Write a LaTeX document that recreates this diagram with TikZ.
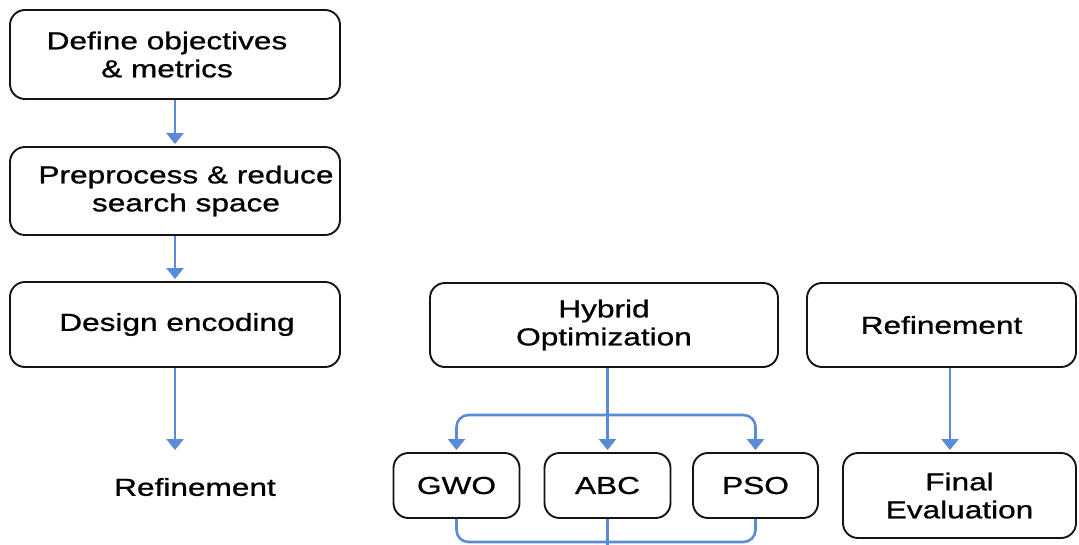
\documentclass[tikz,border=0pt]{standalone}
\usepackage{fontspec}
\setmainfont{Liberation Sans}[FakeStretch=1.29, FakeBold=0.9]
\usetikzlibrary{arrows.meta}
\definecolor{flowblue}{HTML}{5B8BD8}
\definecolor{boxline}{HTML}{141414}
\tikzset{
  txt/.style={inner sep=0pt, align=center, text=black,
    font=\fontsize{24.5}{28}\selectfont},
  stepbox/.style={txt, draw=boxline, line width=1.9pt, rounded corners=15pt},
  algbox/.style={stepbox, minimum width=126pt, minimum height=65pt},
  flow/.style={draw=flowblue, line width=2.6pt,
    -{Triangle[width=17pt,length=11pt]}, shorten >=2pt},
  link/.style={draw=flowblue, line width=2.6pt},
}
\begin{document}
\begin{tikzpicture}[x=1pt,y=-1pt]
\useasboundingbox (0,0) rectangle (1079,544);

% left column
\node[stepbox, minimum width=330pt, minimum height=89pt] (def) at (175,54.5)
  {Define objectives\hspace*{16pt}\\\& metrics\hspace*{16pt}};
\node[stepbox, minimum width=330pt, minimum height=88pt] (pre) at (175,191)
  {\hspace*{22pt}Preprocess \& reduce\\\hspace*{22pt}search space};
\node[stepbox, minimum width=330pt, minimum height=85pt] (enc) at (175,324.5)
  {\hspace*{4pt}Design encoding};
\node[txt] (refl) at (195,487) {Refinement};
\coordinate (reflin) at (175,452);

% hybrid optimisation branch
\node[stepbox, minimum width=348pt, minimum height=84pt] (hyb) at (604,325)
  {Hybrid\\Optimization};
\node[algbox] (gwo) at (456.5,485.5) {GWO};
\node[algbox] (abc) at (607.5,485.5) {ABC};
\node[algbox, minimum width=125pt] (pso) at (755.5,485.5) {PSO};

% right column
\node[stepbox, minimum width=269pt, minimum height=84pt] (refr) at (941.5,325)
  {Refinement};
\node[stepbox, minimum width=233pt, minimum height=85pt] (fin) at (959.5,495.5)
  {Final\\Evaluation};

\coordinate (split) at (607.5,415);
\coordinate (mrg) at (607.5,542);
\coordinate (out) at (607.5,546);

% connectors
\draw[flow] (def) -- (pre);
\draw[flow] (pre) -- (enc);
\draw[flow] (enc.south) -- (reflin);
\draw[flow] (hyb.south -| abc.north) -- (abc.north);
\draw[flow, rounded corners=12pt] (split) -| (gwo.north);
\draw[flow, rounded corners=12pt] (split) -| (pso.north);
\draw[flow] (refr.south -| 950,0) -- (fin.north -| 950,0);
\draw[link, rounded corners=12pt] (gwo.south) |- (mrg) -| (pso.south);
\draw[link] (abc.south) -- (out);
\end{tikzpicture}
\end{document}
